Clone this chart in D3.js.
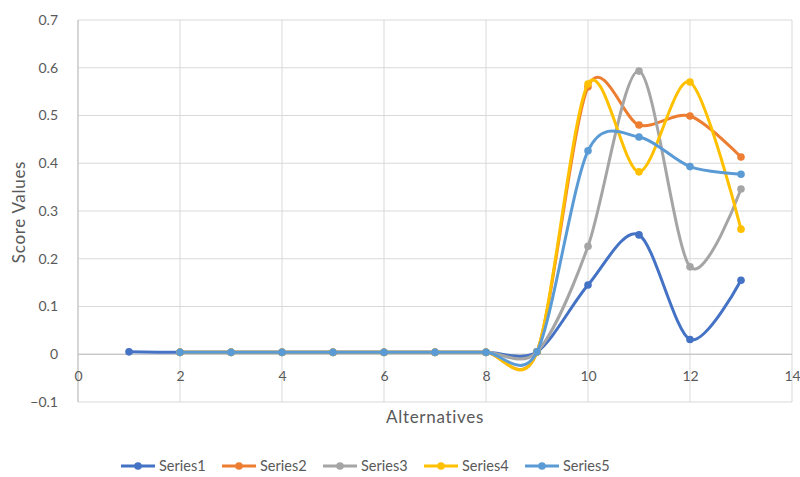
<!DOCTYPE html>
<html>
<head>
<meta charset="utf-8">
<script src="https://cdn.jsdelivr.net/npm/d3@7"></script>
<style>
  html, body { margin: 0; padding: 0; background: #fff; }
  svg { display: block; font-family: Lato, "Open Sans", sans-serif; }
</style>
</head>
<body>
<svg id="chart" width="800" height="477"></svg>
<script>
// Alternatives on the x axis for each series
const altsSeries1 = [1, 2, 3, 4, 5, 6, 7, 8, 9, 10, 11, 12, 13];
const altsOthers  = [2, 3, 4, 5, 6, 7, 8, 9, 10, 11, 12, 13];

// Score values per series
const series1 = [0.005, 0.004, 0.004, 0.004, 0.004, 0.004, 0.004, 0.004, 0.005, 0.145, 0.250, 0.031, 0.155];
const series2 = [0.004, 0.004, 0.004, 0.004, 0.004, 0.004, 0.004, 0.005, 0.560, 0.480, 0.499, 0.413];
const series3 = [0.004, 0.004, 0.004, 0.004, 0.004, 0.004, 0.004, 0.005, 0.226, 0.593, 0.183, 0.346];
const series4 = [0.004, 0.004, 0.004, 0.004, 0.004, 0.004, 0.004, 0.005, 0.566, 0.382, 0.570, 0.262];
const series5 = [0.004, 0.004, 0.004, 0.004, 0.004, 0.004, 0.004, 0.005, 0.426, 0.455, 0.393, 0.377];

const seriesNames = ["Series1", "Series2", "Series3", "Series4", "Series5"];
const seriesColors = ["#4472C4", "#ED7D31", "#A5A5A5", "#FFC000", "#5B9BD5"];

const xTicks = [0, 2, 4, 6, 8, 10, 12, 14];
const yTicks = [-0.1, 0, 0.1, 0.2, 0.3, 0.4, 0.5, 0.6, 0.7];

const allSeries = [
  { name: seriesNames[0], color: seriesColors[0], xs: altsSeries1, ys: series1 },
  { name: seriesNames[1], color: seriesColors[1], xs: altsOthers, ys: series2 },
  { name: seriesNames[2], color: seriesColors[2], xs: altsOthers, ys: series3 },
  { name: seriesNames[3], color: seriesColors[3], xs: altsOthers, ys: series4 },
  { name: seriesNames[4], color: seriesColors[4], xs: altsOthers, ys: series5 }
];

const svg = d3.select("#chart");
const plotLeft = 78, plotRight = 792, plotTop = 20, plotBottom = 402;

const x = d3.scaleLinear().domain([0, 14]).range([plotLeft, plotRight]);
const y = d3.scaleLinear().domain([-0.1, 0.7]).range([plotBottom, plotTop]);

const textColor = "#595959";
const gridColor = "#D9D9D9";

// Gridlines
const grid = svg.append("g");
grid.selectAll("line.h").data(yTicks).join("line")
  .attr("x1", plotLeft).attr("x2", plotRight)
  .attr("y1", d => y(d)).attr("y2", d => y(d))
  .attr("stroke", gridColor).attr("stroke-width", 1);
grid.selectAll("line.v").data(xTicks).join("line")
  .attr("x1", d => x(d)).attr("x2", d => x(d))
  .attr("y1", plotTop).attr("y2", plotBottom)
  .attr("stroke", gridColor).attr("stroke-width", 1);

// Axis lines
svg.append("line")
  .attr("x1", plotLeft).attr("x2", plotRight)
  .attr("y1", y(0)).attr("y2", y(0))
  .attr("stroke", "#BFBFBF").attr("stroke-width", 1);
svg.append("line")
  .attr("x1", plotLeft).attr("x2", plotLeft)
  .attr("y1", plotTop).attr("y2", plotBottom)
  .attr("stroke", "#BFBFBF").attr("stroke-width", 1);

// Y axis labels
const yAxis = d3.axisLeft(y).tickValues(yTicks).tickSize(0).tickPadding(20)
  .tickFormat(d => d3.format("")(Math.round(d * 10) / 10));
const gy = svg.append("g").attr("transform", `translate(${plotLeft},0)`).call(yAxis);
gy.select(".domain").remove();
gy.selectAll("text").attr("fill", textColor).style("font-size", "14px")
  .style("font-family", "Lato, 'Open Sans', sans-serif");

// X axis labels, placed below the zero line
const xAxis = d3.axisBottom(x).tickValues(xTicks).tickSize(0).tickPadding(17);
const gx = svg.append("g").attr("transform", `translate(0,${y(0)})`).call(xAxis);
gx.select(".domain").remove();
gx.selectAll("text").attr("fill", textColor).style("font-size", "14px")
  .style("font-family", "Lato, 'Open Sans', sans-serif");

// Axis titles
svg.append("text")
  .attr("x", 435).attr("y", 423)
  .attr("text-anchor", "middle").attr("fill", textColor)
  .style("font-size", "17px").style("letter-spacing", "0.7px")
  .text("Alternatives");
svg.append("text")
  .attr("transform", "translate(25,212) rotate(-90)")
  .attr("text-anchor", "middle").attr("fill", textColor)
  .style("font-size", "17px").style("letter-spacing", "0.7px")
  .text("Score Values");

// Smoothed series lines with markers
const line = d3.line()
  .x(d => x(d[0])).y(d => y(d[1]))
  .curve(d3.curveCardinal.tension(0.1));

const plot = svg.append("g");
allSeries.forEach(s => {
  const pts = s.xs.map((v, i) => [v, s.ys[i]]);
  const g = plot.append("g");
  g.append("path").datum(pts)
    .attr("d", line).attr("fill", "none")
    .attr("stroke", s.color).attr("stroke-width", 3)
    .attr("stroke-linejoin", "round").attr("stroke-linecap", "round");
  g.selectAll("circle").data(pts).join("circle")
    .attr("cx", d => x(d[0])).attr("cy", d => y(d[1]))
    .attr("r", 3.8).attr("fill", s.color);
});

// Legend
const legend = svg.append("g").attr("transform", "translate(121,466)");
const item = legend.selectAll("g").data(allSeries).join("g")
  .attr("transform", (d, i) => `translate(${i * 101},0)`);
item.append("line")
  .attr("x1", 0).attr("x2", 34).attr("y1", 0).attr("y2", 0)
  .attr("stroke", d => d.color).attr("stroke-width", 3);
item.append("circle").attr("cx", 17).attr("cy", 0).attr("r", 3.8)
  .attr("fill", d => d.color);
item.append("text").attr("x", 38).attr("y", 5)
  .attr("fill", textColor).style("font-size", "14.5px").text(d => d.name);
</script>
</body>
</html>
